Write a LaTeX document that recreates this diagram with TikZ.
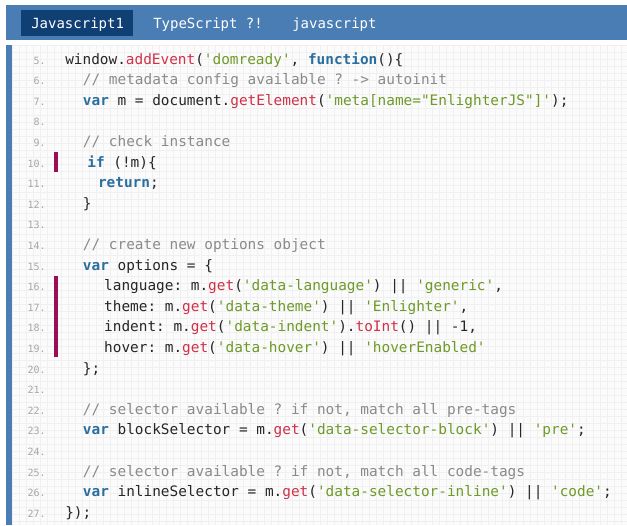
\documentclass[tikz,border=0pt]{standalone}
\usepackage{fontspec}
\setmonofont{DejaVu Sans Mono}
\definecolor{tabbar}{HTML}{4A7DB3}
\definecolor{tabact}{HTML}{0F3F73}
\definecolor{kw}{HTML}{2A6E9E}
\definecolor{fn}{HTML}{D03048}
\definecolor{str}{HTML}{6E9A28}
\definecolor{cmt}{HTML}{8A8A8A}
\definecolor{hl}{HTML}{9A0E55}
\newcommand{\K}[1]{\textcolor{kw}{\bfseries #1}}
\newcommand{\F}[1]{\textcolor{fn}{#1}}
\newcommand{\St}[1]{\textcolor{str}{#1}}
\newcommand{\Cm}[1]{\textcolor{cmt}{#1}}
\newcommand{\cl}[4]{%
  \node[lnum] (n#1) at (46,{64+(#1-5)*20.6}) {#1.};
  \node[code] (c#1) at ({65+#2*8.85},{64+(#1-5)*20.6}) {#3#4};}
\begin{document}
\begin{tikzpicture}[x=0.75pt,y=-0.75pt,
  lnum/.style={anchor=base east,inner sep=0,font=\ttfamily\fontsize{7.5}{9}\selectfont,text=gray!70},
  code/.style={anchor=base west,inner sep=0,font=\ttfamily\fontsize{10.8}{13}\selectfont,text=black!85},
  tab/.style={anchor=base west,inner sep=0,font=\ttfamily\fontsize{10.5}{12}\selectfont,text=white}]
\useasboundingbox (0,0) rectangle (627,525);
\fill[white] (0,0) rectangle (627,525);
\fill[tabbar] (6,5) rectangle (627,40);
\fill[tabact] (21,10) rectangle (133,36);
\node[tab] (t1) at (31,28) {Javascript1};
\node[tab] (t2) at (153,28) {TypeScript ?!};
\node[tab] (t3) at (292,28) {javascript};
\fill[gray!3] (12,45) rectangle (627,525);
\foreach \x in {12,19,...,627} \draw[gray!12,line width=0.4pt] (\x,45) -- (\x,525);
\foreach \y in {45,52,...,525} \draw[gray!12,line width=0.4pt] (12,\y) -- (627,\y);
\fill[tabbar] (6,45) rectangle (12,525);
\fill[hl] (54,{64+5*20.6-15}) rectangle (58,{64+5*20.6+5});
\fill[hl] (54,{64+11*20.6-15}) rectangle (58,{64+14*20.6+5});
\cl{5}{0}{window.\F{addEvent}(\St{'domready'}, \K{function}()\{}{}
\cl{6}{2}{\Cm{// metadata config available ? -> autoinit}}{}
\cl{7}{2}{\K{var} m = document.\F{getElement}(\St{'meta[name="EnlighterJS"]'});}{}
\cl{8}{0}{}{}
\cl{9}{2}{\Cm{// check instance}}{}
\cl{10}{2.5}{\K{if} (!m)\{}{}
\cl{11}{3.7}{\K{return};}{}
\cl{12}{2}{\}}{}
\cl{13}{0}{}{}
\cl{14}{2}{\Cm{// create new options object}}{}
\cl{15}{2}{\K{var} options = \{}{}
\cl{16}{4.4}{language: m.\F{get}(\St{'data-language'}) || \St{'generic'},}{}
\cl{17}{4.4}{theme: m.\F{get}(\St{'data-theme'}) || \St{'Enlighter'},}{}
\cl{18}{4.4}{indent: m.\F{get}(\St{'data-indent'}).\F{toInt}() || -1,}{}
\cl{19}{4.4}{hover: m.\F{get}(\St{'data-hover'}) || \St{'hoverEnabled'}}{}
\cl{20}{2}{\};}{}
\cl{21}{0}{}{}
\cl{22}{2}{\Cm{// selector available ? if not, match all pre-tags}}{}
\cl{23}{2}{\K{var} blockSelector = m.\F{get}(\St{'data-selector-block'}) || \St{'pre'};}{}
\cl{24}{0}{}{}
\cl{25}{2}{\Cm{// selector available ? if not, match all code-tags}}{}
\cl{26}{2}{\K{var} inlineSelector = m.\F{get}(\St{'data-selector-inline'}) || \St{'code'};}{}
\cl{27}{0}{\});}{}
\end{tikzpicture}
\end{document}
